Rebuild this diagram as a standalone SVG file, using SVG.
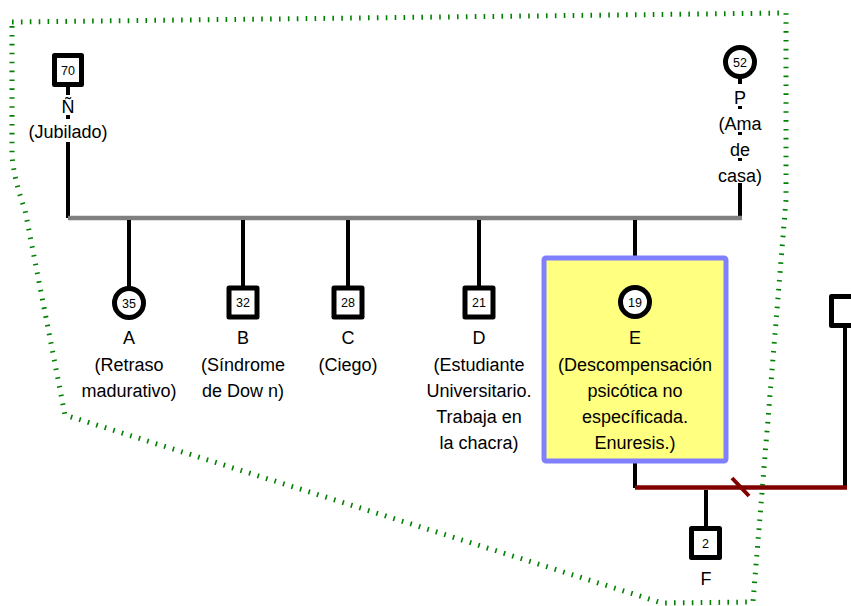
<svg xmlns="http://www.w3.org/2000/svg" width="851" height="606" viewBox="0 0 851 606">
<style>
text{font-family:"Liberation Sans",Arial,sans-serif;fill:#000;text-anchor:middle}
.lbl{font-size:18px}
.age{font-size:12.5px}
.m{fill:#fff;stroke:#000;stroke-width:5;stroke-linejoin:round}
.f{fill:#fff;stroke:#000;stroke-width:5}
.ln{stroke:#000;stroke-width:4;fill:none}
.bg{fill:#fff}
</style>
<rect width="851" height="606" fill="#fff"/>
<path id="household" d="M12,22 L786,13 L786,200 L753,602 L662,603 L65,415 L25,210 Q14,180 12,155 Z" fill="none" stroke="#008000" stroke-width="5" stroke-dasharray="1.6 7.3"/>
<g id="connectors">
<line class="ln" x1="68" y1="85" x2="68" y2="218"/>
<line class="ln" x1="740" y1="78" x2="740" y2="218"/>
<line x1="68" y1="218" x2="742" y2="218" stroke="#808080" stroke-width="4.5"/>
<line class="ln" x1="129" y1="220" x2="129" y2="287"/>
<line class="ln" x1="243" y1="220" x2="243" y2="287"/>
<line class="ln" x1="348" y1="220" x2="348" y2="287"/>
<line class="ln" x1="479" y1="220" x2="479" y2="287"/>
<line class="ln" x1="635" y1="220" x2="635" y2="258"/>
<line class="ln" x1="635" y1="462" x2="635" y2="488"/>
<line class="ln" x1="845" y1="326" x2="845" y2="488"/>
<line x1="635" y1="487.5" x2="847" y2="487.5" stroke="#800000" stroke-width="4.5"/>
<line x1="732" y1="478" x2="749" y2="496" stroke="#800000" stroke-width="4"/>
<line class="ln" x1="706" y1="490" x2="706" y2="528"/>
</g>
<g id="node-N">
<rect class="m" x="54.5" y="55.5" width="27" height="29"/>
<text class="age" x="68" y="75">70</text>
<rect class="bg" x="55" y="95" width="26" height="20"/>
<text class="lbl" x="68" y="113">Ñ</text>
<rect class="bg" x="24" y="119" width="88" height="23"/>
<text class="lbl" x="68" y="138">(Jubilado)</text>
</g>
<g id="node-P">
<circle class="f" cx="740" cy="62" r="14.5"/>
<text class="age" x="740" y="66.5">52</text>
<rect class="bg" x="725" y="84" width="30" height="22"/>
<text class="lbl" x="740" y="104">P</text>
<rect class="bg" x="705" y="109" width="70" height="23"/>
<text class="lbl" x="740" y="130">(Ama</text>
<rect class="bg" x="720" y="135" width="40" height="23"/>
<text class="lbl" x="740" y="156">de</text>
<rect class="bg" x="705" y="161" width="70" height="22"/>
<text class="lbl" x="740" y="182">casa)</text>
</g>
<g id="node-A">
<circle class="f" cx="129" cy="303" r="14.5"/>
<text class="age" x="129" y="307.5">35</text>
<text class="lbl" x="129" y="344">A</text>
<text class="lbl" x="129" y="371">(Retraso</text>
<text class="lbl" x="129" y="397">madurativo)</text>
</g>
<g id="node-B">
<rect class="m" x="229" y="288" width="28" height="29"/>
<text class="age" x="243" y="307">32</text>
<text class="lbl" x="243" y="344">B</text>
<text class="lbl" x="243" y="371">(Síndrome</text>
<text class="lbl" x="243" y="397">de Dow n)</text>
</g>
<g id="node-C">
<rect class="m" x="334" y="288" width="28" height="29"/>
<text class="age" x="348" y="307">28</text>
<text class="lbl" x="348" y="344">C</text>
<text class="lbl" x="348" y="371">(Ciego)</text>
</g>
<g id="node-D">
<rect class="m" x="465" y="288" width="28" height="29"/>
<text class="age" x="479" y="307">21</text>
<text class="lbl" x="479" y="344">D</text>
<text class="lbl" x="479" y="371">(Estudiante</text>
<text class="lbl" x="479" y="397">Universitario.</text>
<text class="lbl" x="479" y="423">Trabaja en</text>
<text class="lbl" x="479" y="449">la chacra)</text>
</g>
<g id="node-E">
<rect x="544" y="258" width="182" height="203" rx="2" fill="#ffff80" stroke="#8080ff" stroke-width="5"/>
<circle class="f" cx="635" cy="302" r="14.5"/>
<text class="age" x="635" y="306.5">19</text>
<text class="lbl" x="635" y="344">E</text>
<text class="lbl" x="635" y="371">(Descompensación</text>
<text class="lbl" x="635" y="397">psicótica no</text>
<text class="lbl" x="635" y="423">específicada.</text>
<text class="lbl" x="635" y="449">Enuresis.)</text>
</g>
<g id="node-partner">
<rect class="m" x="831.5" y="296.5" width="28" height="29"/>
</g>
<g id="node-F">
<rect class="m" x="691.5" y="528.5" width="28" height="29"/>
<text class="age" x="705.5" y="547.5">2</text>
<text class="lbl" x="706" y="585">F</text>
</g>
</svg>
